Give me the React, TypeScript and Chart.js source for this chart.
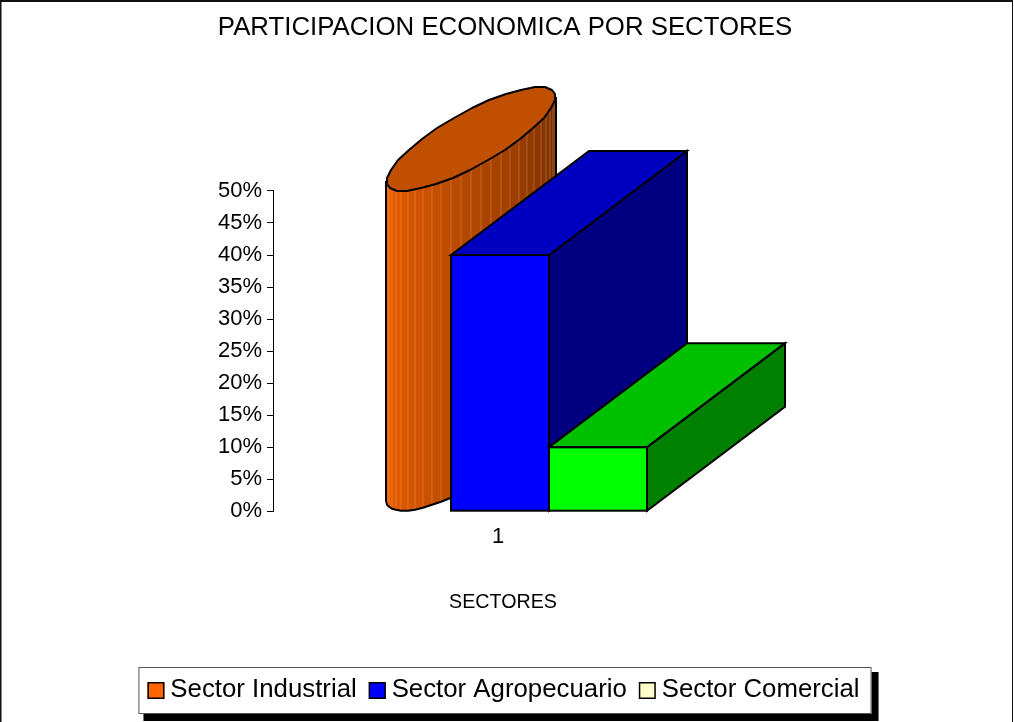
import React, { useEffect, useRef } from "react";
import { Chart, registerables } from "chart.js";

Chart.register(...registerables);

const TITLE = "PARTICIPACION ECONOMICA POR SECTORES";
const X_TITLE = "SECTORES";
const categories = ["1"];
const seriesNames = ["Sector Industrial", "Sector Agropecuario", "Sector Comercial"];
const sectorIndustrial = [50];
const sectorAgropecuario = [40];
const sectorComercial = [10];
const frontColors = ["#FF6600", "#0000FF", "#00FF00"];
const topColors = ["#C05000", "#0000C0", "#00C000"];
const sideColors = ["#803300", "#000080", "#008000"];
const legendColors = ["#FF6600", "#0000FF", "#FFFFCC"];
const FONT = '"Liberation Sans", Arial, sans-serif';
const DX = 138;
const DY = -104;

function drawCylinder(ctx: any, el: any) {
  const w = el.width;
  const cx = el.x + DX / 2;
  const cy = el.y + DY / 2;
  const h = el.base - el.y;
  const t0 = Math.atan2(DX / 2, w / 2);
  const pt = (t: number) => [
    Math.round(cx + (w / 2) * Math.cos(t) + (DX / 2) * Math.sin(t)),
    Math.round(cy + (DY / 2) * Math.sin(t)),
  ];
  const n = 26;
  const arc: number[][] = [];
  for (let i = 0; i <= n; i++) arc.push(pt(t0 - Math.PI + (Math.PI * i) / n));
  ctx.save();
  ctx.lineJoin = "round";
  for (let i = 0; i < n; i++) {
    const f = 0.95 - (0.5 * i) / (n - 1);
    ctx.fillStyle = `rgb(${Math.round(255 * f)},${Math.round(102 * f)},0)`;
    ctx.beginPath();
    ctx.moveTo(arc[i][0], arc[i][1]);
    ctx.lineTo(arc[i + 1][0] + 0.5, arc[i + 1][1]);
    ctx.lineTo(arc[i + 1][0] + 0.5, arc[i + 1][1] + h);
    ctx.lineTo(arc[i][0], arc[i][1] + h);
    ctx.closePath();
    ctx.fill();
    if (i > 0) {
      ctx.strokeStyle = "rgba(255,190,140,0.3)";
      ctx.lineWidth = 1;
      ctx.beginPath();
      ctx.moveTo(arc[i][0], arc[i][1]);
      ctx.lineTo(arc[i][0], arc[i][1] + h);
      ctx.stroke();
    }
  }
  ctx.strokeStyle = "#000";
  ctx.lineWidth = 2;
  ctx.beginPath();
  ctx.moveTo(arc[0][0], arc[0][1]);
  arc.forEach((p) => ctx.lineTo(p[0], p[1] + h));
  ctx.lineTo(arc[n][0], arc[n][1]);
  ctx.stroke();
  ctx.fillStyle = topColors[0];
  ctx.beginPath();
  const m = 30;
  for (let i = 0; i < m; i++) {
    const p = pt((2 * Math.PI * i) / m);
    if (i === 0) ctx.moveTo(p[0], p[1]);
    else ctx.lineTo(p[0], p[1]);
  }
  ctx.closePath();
  ctx.fill();
  ctx.stroke();
  ctx.restore();
}

function drawBox(ctx: any, el: any, index: number) {
  const l = el.x - el.width / 2;
  const r = el.x + el.width / 2;
  const t = el.y;
  const b = el.base;
  el.draw(ctx);
  ctx.save();
  ctx.strokeStyle = "#000";
  ctx.lineWidth = 2;
  const face = (pts: number[][], color: string) => {
    ctx.fillStyle = color;
    ctx.beginPath();
    pts.forEach((p, i) => (i ? ctx.lineTo(p[0], p[1]) : ctx.moveTo(p[0], p[1])));
    ctx.closePath();
    ctx.fill();
    ctx.stroke();
  };
  face([[r, t], [r + DX, t + DY], [r + DX, b + DY], [r, b]], sideColors[index]);
  face([[l, t], [l + DX, t + DY], [r + DX, t + DY], [r, t]], topColors[index]);
  ctx.strokeRect(l, t, r - l, b - t);
  ctx.restore();
}

const threeD = {
  id: "threeD",
  afterLayout(chart: any) {
    const x = chart.scales.x;
    x.left += 3;
    x.right += 3;
    const legend = chart.legend;
    legend.left -= 1.5;
    legend.right -= 1.5;
    legend.top -= 1.5;
    legend.legendHitBoxes.forEach((hb: any) => {
      hb.left -= 1.5;
    });
  },
  beforeDraw(chart: any) {
    const { ctx, width, height, legend } = chart;
    ctx.save();
    ctx.fillStyle = "#fff";
    ctx.fillRect(0, 0, width, height);
    ctx.fillStyle = "#111";
    ctx.fillRect(0, 0, width - 1, 2);
    ctx.fillRect(0, 0, 1.5, height);
    ctx.fillRect(width - 2, 0, 1, height);
    const hb = legend.legendHitBoxes;
    const l = hb[0].left - 9;
    const last = hb[hb.length - 1];
    const r = last.left + last.width + 12;
    const b = legend.bottom;
    const t = b - 47;
    ctx.fillStyle = "#000";
    ctx.fillRect(l + 5, t + 5, r - l + 2, b - t + 2);
    ctx.fillStyle = "#fff";
    ctx.fillRect(l, t, r - l, b - t);
    ctx.strokeStyle = "#555";
    ctx.lineWidth = 1;
    ctx.strokeRect(l + 0.5, t + 0.5, r - l - 1, b - t - 1);
    ctx.restore();
  },
  beforeDatasetsDraw(chart: any) {
    const { ctx } = chart;
    [0, 1, 2].forEach((i) => {
      const el = chart.getDatasetMeta(i).data[0];
      if (i === 0) drawCylinder(ctx, el);
      else drawBox(ctx, el, i);
    });
  },
  beforeDatasetDraw() {
    return false;
  },
  afterDraw(chart: any) {
    const { ctx, legend } = chart;
    ctx.save();
    legend.legendHitBoxes.forEach((hb: any, i: number) => {
      const y = legend.bottom - 32;
      ctx.fillStyle = legendColors[i];
      ctx.fillRect(hb.left, y, 17, 17);
      ctx.strokeStyle = "#000";
      ctx.lineWidth = 1.5;
      ctx.strokeRect(hb.left + 0.75, y + 0.75, 15.5, 15.5);
    });
    ctx.restore();
  },
};

export default function App() {
  const ref = useRef<HTMLCanvasElement>(null);
  useEffect(() => {
    const chart = new Chart(ref.current as HTMLCanvasElement, {
      type: "bar",
      plugins: [threeD],
      data: {
        labels: categories,
        datasets: [
          { label: seriesNames[0], data: sectorIndustrial, backgroundColor: frontColors[0] },
          { label: seriesNames[1], data: sectorAgropecuario, backgroundColor: frontColors[1] },
          { label: seriesNames[2], data: sectorComercial, backgroundColor: frontColors[2] },
        ],
      },
      options: {
        responsive: false,
        animation: false,
        layout: { padding: { left: 0, right: 4, top: 0, bottom: 8 } },
        datasets: { bar: { barPercentage: 1, categoryPercentage: 294 / 454 } },
        plugins: {
          title: {
            display: true,
            text: TITLE,
            color: "#000",
            font: { family: FONT, size: 25.8, weight: "normal" },
            padding: { top: 12, bottom: 148 },
          },
          tooltip: { enabled: false },
          legend: {
            position: "bottom",
            labels: {
              color: "#000",
              font: { family: FONT, size: 25.8 },
              boxWidth: 10,
              boxHeight: 17,
              padding: 12,
              generateLabels: () =>
                seriesNames.map((text, i) => ({
                  text,
                  datasetIndex: i,
                  fillStyle: "transparent",
                  strokeStyle: "transparent",
                  lineWidth: 0,
                })),
            },
          },
        },
        scales: {
          x: {
            type: "category",
            grid: { display: false },
            border: { display: false },
            ticks: {
              color: "#000",
              padding: 5,
              labelOffset: -2,
              font: { family: FONT, size: 22 },
            },
            title: {
              display: true,
              text: X_TITLE,
              color: "#000",
              font: { family: FONT, size: 19.7 },
              padding: { top: 42, bottom: 52 },
            },
            afterFit(s: any) {
              s.height = 155;
            },
          },
          y: {
            type: "linear",
            min: 0,
            max: 50,
            position: "left",
            grid: { drawOnChartArea: false, drawTicks: true, tickLength: 6, color: "#000" },
            border: { color: "#000", width: 1 },
            ticks: {
              stepSize: 5,
              color: "#000",
              padding: 5,
              font: { family: FONT, size: 22 },
              callback: (v: any) => `${v}%`,
            },
            afterFit(s: any) {
              s.width = 273;
            },
          },
          y2: {
            type: "linear",
            position: "right",
            grid: { display: false },
            border: { display: false },
            ticks: { display: false },
            afterFit(s: any) {
              s.width = 283;
            },
          },
        },
      },
    } as any);
    return () => chart.destroy();
  }, []);
  return (
    <div style={{ position: "fixed", left: 0, top: 0, width: 1014, height: 722, background: "#fff" }}>
      <canvas ref={ref} width={1014} height={722} style={{ display: "block" }} />
    </div>
  );
}
